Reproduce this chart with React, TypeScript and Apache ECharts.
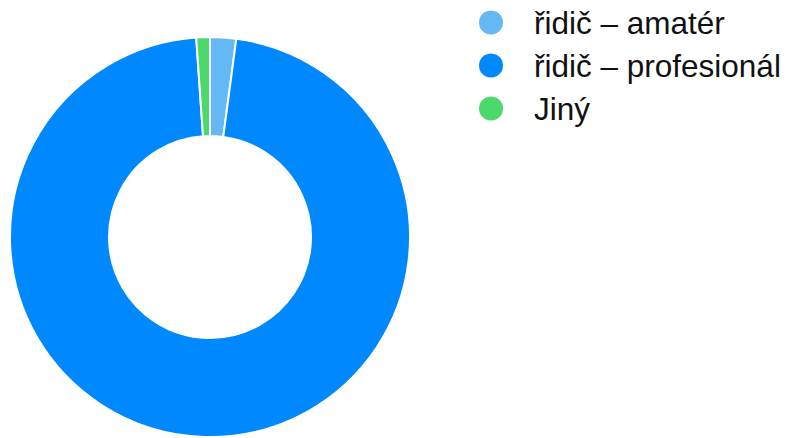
import React, { useEffect, useRef } from "react";
import * as echarts from "echarts";

const categories = ["řidič – amatér", "řidič – profesionál", "Jiný"];
const values = [2.1, 96.8, 1.1];
const colors = ["#64B9F5", "#0088FF", "#4CD86B"];

export default function App() {
  const ref = useRef<HTMLDivElement>(null);
  useEffect(() => {
    document.body.style.margin = "0";
    const chart = echarts.init(ref.current!, null, { renderer: "svg" });
    chart.setOption({
      animation: false,
      color: colors,
      legend: {
        orient: "vertical",
        left: 477,
        top: 1,
        padding: 0,
        icon: "circle",
        itemWidth: 26,
        itemHeight: 26,
        itemGap: 0,
        textStyle: {
          fontFamily: "'Liberation Sans', Arial, sans-serif",
          fontSize: 31.5,
          lineHeight: 43,
          color: "#111",
          padding: [0, 0, 0, 25],
        },
        data: categories,
      },
      series: [
        {
          type: "pie",
          radius: [101, 200],
          center: [210, 237],
          startAngle: 90,
          clockwise: true,
          label: { show: false },
          labelLine: { show: false },
          emphasis: { disabled: true },
          itemStyle: { borderColor: "#fff", borderWidth: 2 },
          data: categories.map((name, i) => ({ name, value: values[i] })),
        },
      ],
    });
    return () => chart.dispose();
  }, []);
  return (
    <div
      ref={ref}
      style={{ position: "fixed", left: 0, top: 0, width: 787, height: 438, background: "#fff" }}
    />
  );
}
